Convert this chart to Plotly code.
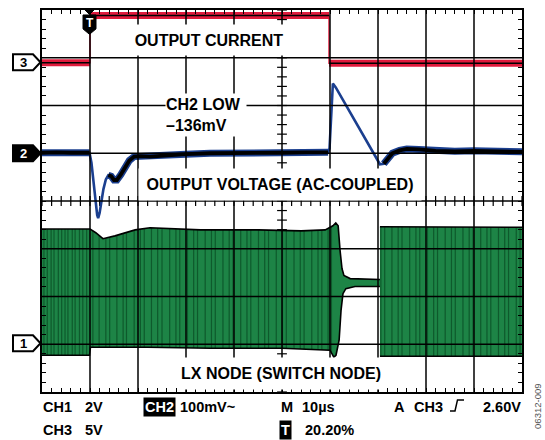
import numpy as np
import plotly.graph_objects as go

# ---------------- data (read from the scope capture) ----------------
# time in microseconds, trigger at 0 (10 us/div)
time_range = [-10, 90]

# CH3: output current (5 V/div probe output, volts)
ch3_t = [-10, 0, 0, 49.8, 49.8, 90]
ch3_v = [-0.05, -0.05, 4.9, 4.9, -0.1, -0.1]

# CH2: output voltage, AC-coupled (mV, 100 mV/div)
ch2_t = [-10, -7, -4, -1, -0.1, 0.3, 0.7, 1.1, 1.5, 1.7, 2.0, 2.4, 2.8, 3.3, 3.8,
         4.4, 5.0, 5.6, 6.4, 7.2, 8.2, 9.2, 10.5, 12.5, 16, 20, 25, 30, 35, 40, 45,
         49.6, 49.9, 50.2, 50.6, 51.2, 55, 60.0, 60.4, 61.2, 62.0, 63.0, 64.5, 66.0,
         68.5, 72, 76, 80, 85, 90]
ch2_mv = [1, 2, 1, 1, 1, -20, -60, -100, -130, -136, -125, -100, -75, -55, -46,
          -48, -56, -56, -45, -30, -15, -7, -6, -7, -4, -2, 0, 0, 1, 1, 2,
          2, 10, 70, 146, 138, 72, -15, -23, -22, -12, 0, 6, 9,
          8, 5, 4, 5, 4, 3]
# time spans where the CH2 trace is slow and shows its noise band
ch2_quiet = [(-10, -0.1), (3.8, 49.6), (61.2, 90)]

# CH1: LX switch node (V, 2 V/div) - upper and lower envelope of the switching
ch1_hi_t = [-10, 0, 1.2, 2.7, 5.2, 9.4, 12.5, 23, 35, 44, 49, 50.6, 51.2, 51.7,
            52.1, 52.5, 52.9, 54.2, 60.4, 60.4, 90]
ch1_hi_v = [4.83, 4.83, 4.67, 4.42, 4.54, 4.79, 4.88, 4.79, 4.79, 4.75, 4.79, 4.96,
            5.08, 4.96, 3.92, 3.17, 2.88, 2.75, 2.71, 4.92, 4.9]
ch1_lo_t = [-10, -0.1, 0.1, 12, 25, 40, 50.0, 50.8, 51.25, 51.9, 52.3, 52.7, 53.3,
            55.2, 60.4, 60.4, 90]
ch1_lo_v = [-0.46, -0.46, -0.125, -0.125, -0.17, -0.17, -0.25, -0.54, -0.46, 0.17,
            1.42, 2.12, 2.33, 2.42, 2.42, -0.5, -0.5]
# switching edges visible as darker stripes
ch1_edges_t = [-9.6, -8.9, -8.1, -7.5, -6.6, -5.9, -5.2, -4.6, -3.7, -3.1, -2.2, -1.5,
               -0.7, 0.6, 1.9, 3.3, 4.1, 5.6, 6.9, 7.6, 9.2, 10.5, 11.3, 12.8, 14.1,
               15.0, 16.6, 17.9, 18.7, 20.3, 21.6, 22.4, 24.0, 25.3, 26.1, 27.7, 29.0,
               29.8, 31.4, 32.7, 33.5, 35.1, 36.4, 37.2, 38.8, 40.1, 40.9, 42.5, 43.8,
               44.6, 46.2, 47.5, 48.3, 49.6, 50.3, 60.6, 61.4, 62.9, 64.2, 65.0, 66.6,
               67.9, 68.7, 70.3, 71.6, 72.4, 74.0, 75.3, 76.1, 77.7, 79.0, 79.8, 81.4,
               82.7, 83.5, 85.1, 86.4, 87.2, 88.8, 89.6]

# channel settings: units per division and ground-marker offset (divisions from centre)
ch1_per_div, ch1_offset = 2.0, -3.0
ch2_per_div, ch2_offset = 100.0, 1.0
ch3_per_div, ch3_offset = 5.0, 2.906

# ---------------- styling ----------------
FONT = "Liberation Sans, Arial, Helvetica, sans-serif"
RED = "#e01a3c"
BLUE = "#1b3f8f"
GREEN = "#1d8446"
GREEN_DARK = "#0e5a2c"

W, H = 545, 440
L, R, T, B = 42, 23, 8, 48
PW, PH = W - L - R, H - T - B


def px(x):
    return (x - L) / PW


def py(y):
    return (H - B - y) / PH


def rng(per_div, off):
    return [(-4 - off) * per_div, (4 - off) * per_div]


def split_edges(t, v):
    xs, ys = [], []
    for i in range(len(t)):
        if i > 0 and t[i] == t[i - 1]:
            xs.append(None)
            ys.append(None)
        xs.append(t[i])
        ys.append(v[i])
    return xs, ys


def mask_quiet(t, v, spans):
    out = []
    for ti, vi in zip(t, v):
        ok = any(a <= ti <= b for a, b in spans)
        out.append(vi if ok else None)
    return out


fig = go.Figure()

# --- CH1 (green switching envelope)
poly_x = ch1_hi_t + ch1_lo_t[::-1]
poly_y = ch1_hi_v + ch1_lo_v[::-1]
fig.add_trace(go.Scatter(x=poly_x, y=poly_y, yaxis="y2", mode="lines", fill="toself",
                         fillcolor=GREEN, line=dict(width=0, color=GREEN),
                         hoverinfo="skip", showlegend=False))
sx, sy = [], []
for te in ch1_edges_t:
    lo = float(np.interp(te, ch1_lo_t, ch1_lo_v))
    hi = float(np.interp(te, ch1_hi_t, ch1_hi_v))
    sx += [te, te, None]
    sy += [lo, hi, None]
fig.add_trace(go.Scatter(x=sx, y=sy, yaxis="y2", mode="lines",
                         line=dict(width=1.2, color=GREEN_DARK),
                         hoverinfo="skip", showlegend=False))
hx, hy = split_edges(ch1_hi_t, ch1_hi_v)
lx, ly = split_edges(ch1_lo_t, ch1_lo_v)
for xx, yy in ((hx, hy), (lx, ly)):
    fig.add_trace(go.Scatter(x=xx, y=yy, yaxis="y2", mode="lines",
                             line=dict(width=1.6, color="black"),
                             hoverinfo="skip", showlegend=False))

# --- CH3 (red output current)
fig.add_trace(go.Scatter(x=ch3_t, y=ch3_v, yaxis="y4", mode="lines",
                         line=dict(width=1.5, color=RED), hoverinfo="skip", showlegend=False))
bx, by = split_edges(ch3_t, ch3_v)
fig.add_trace(go.Scatter(x=bx, y=by, yaxis="y4", mode="lines",
                         line=dict(width=7, color=RED), hoverinfo="skip", showlegend=False))
fig.add_trace(go.Scatter(x=bx, y=by, yaxis="y4", mode="lines",
                         line=dict(width=1.6, color="black"), hoverinfo="skip", showlegend=False))

# --- CH2 (blue output voltage)
fig.add_trace(go.Scatter(x=ch2_t, y=ch2_mv, yaxis="y3", mode="lines",
                         line=dict(width=2.6, color=BLUE), hoverinfo="skip", showlegend=False))
q = mask_quiet(ch2_t, ch2_mv, ch2_quiet)
fig.add_trace(go.Scatter(x=ch2_t, y=q, yaxis="y3", mode="lines",
                         line=dict(width=7, color=BLUE), hoverinfo="skip", showlegend=False))
fig.add_trace(go.Scatter(x=ch2_t, y=q, yaxis="y3", mode="lines",
                         line=dict(width=3.8, color="black"), hoverinfo="skip", showlegend=False))

# --- centre-axis tick marks
cx = np.arange(time_range[0], time_range[1] + 0.01, 2.0)
fig.add_trace(go.Scatter(x=cx, y=np.zeros_like(cx), mode="markers",
                         marker=dict(symbol="line-ns", size=7, color="black",
                                     line=dict(width=1.2, color="black")),
                         hoverinfo="skip", showlegend=False))
cy = np.arange(-4, 4.001, 0.2)
fig.add_trace(go.Scatter(x=np.full_like(cy, 40.0), y=cy, mode="markers",
                         marker=dict(symbol="line-ew", size=7, color="black",
                                     line=dict(width=1.2, color="black")),
                         hoverinfo="skip", showlegend=False))

shapes = []
# graticule drawn over the traces
for k in range(1, 10):
    xv = time_range[0] + 10 * k
    shapes.append(dict(type="line", xref="x", yref="y", x0=xv, x1=xv, y0=-4, y1=4,
                       line=dict(color="black", width=1.5), layer="above"))
for yv in range(-3, 4):
    shapes.append(dict(type="line", xref="x", yref="y", x0=time_range[0], x1=time_range[1],
                       y0=yv, y1=yv, line=dict(color="black", width=1.5), layer="above"))


def path(points, close=True):
    s = "M " + " L ".join(f"{px(a):.5f},{py(b):.5f}" for a, b in points)
    return s + (" Z" if close else "")


def label(text, xc, yc, font, **kw):
    d = dict(x=px(xc), y=py(yc), xref="paper", yref="paper", text=text, showarrow=False,
             xanchor="center", yanchor="middle", font=font)
    d.update(kw)
    return d


# channel ground flags
flags = [("3", 60.5, "white", "black"), ("2", 152, "black", "white"), ("1", 343, "white", "black")]
annotations = []
for lab, yc, fillc, txtc in flags:
    pts = [(13, yc - 8), (33, yc - 8), (40.5, yc), (33, yc + 8), (13, yc + 8)]
    shapes.append(dict(type="path", xref="paper", yref="paper", path=path(pts),
                       fillcolor=fillc, line=dict(color="black", width=2), layer="above"))
    annotations.append(label(lab, 23.5, yc + 0.5,
                             dict(family=FONT, size=13, color=txtc, weight="bold")))
# trigger marker
shapes.append(dict(type="path", xref="paper", yref="paper",
                   path=path([(83, 13), (96, 13), (96, 27), (89.5, 32.5), (83, 27)]),
                   fillcolor="black", line=dict(color="black", width=1), layer="above"))
shapes.append(dict(type="path", xref="paper", yref="paper",
                   path=path([(85, 8), (94, 8), (89.5, 12.5)]),
                   fillcolor="black", line=dict(color="black", width=1), layer="above"))
annotations.append(label("T", 89.5, 21, dict(family=FONT, size=12, color="white",
                                              weight="bold")))
# rising-edge trigger glyph
shapes.append(dict(type="path", xref="paper", yref="paper",
                   path=path([(450, 411), (455, 411), (457.5, 400), (464, 400)], close=False),
                   fillcolor="rgba(0,0,0,0)", line=dict(color="black", width=1.5)))

LBL = dict(family=FONT, size=16, color="black", weight="bold")


def box(text, xc, yc, w, h, align="center"):
    return label(text, xc, yc, LBL, width=w, height=h, bgcolor="white", borderpad=0,
                 align=align)


annotations += [
    box("OUTPUT CURRENT", 209, 38, 158, 30),
    box("CH2 LOW<br>–136mV", 206, 114, 80, 42, align="left"),
    box("OUTPUT VOLTAGE (AC-COUPLED)", 280, 183, 282, 31),
    box("LX NODE (SWITCH NODE)", 281, 373, 206, 31),
]

BF = dict(family=FONT, size=14.5, color="black", weight="bold")
row1, row2 = 407, 430
bottom = [("CH1", 41, row1), ("2V", 83, row1), ("100mV~", 178, row1), ("M", 279, row1),
          ("10µs", 300, row1), ("A", 392, row1), ("CH3", 412, row1), ("2.60V", 481, row1),
          ("CH3", 41, row2), ("5V", 83, row2), ("20.20%", 303, row2)]
for txt, xl, yc in bottom:
    annotations.append(label(txt, xl, yc, BF, xanchor="left"))
for txt, xl, yc in (("CH2", 143, row1), ("T", 279, row2)):
    annotations.append(label(txt, xl, yc,
                             dict(family=FONT, size=14.5, color="white", weight="bold"),
                             xanchor="left", bgcolor="black", borderpad=1))
annotations.append(label("06312-009", 538, 407, dict(family=FONT, size=9.5, color="#555555"),
                         textangle=-90))

axis_common = dict(showgrid=False, zeroline=False, showticklabels=False, ticks="inside",
                   ticklen=4, tickwidth=1, tickcolor="black", showline=True, linewidth=2,
                   linecolor="black", mirror="allticks", layer="above traces",
                   fixedrange=True)

fig.update_layout(
    width=W, height=H, margin=dict(l=L, r=R, t=T, b=B, pad=0),
    paper_bgcolor="white", plot_bgcolor="white", showlegend=False,
    xaxis=dict(range=time_range, tick0=time_range[0], dtick=10,
               minor=dict(tick0=time_range[0], dtick=2, ticks="inside", ticklen=4,
                          tickwidth=1, tickcolor="black", showgrid=False),
               **axis_common),
    yaxis=dict(range=[-4, 4], tick0=-4, dtick=1,
               minor=dict(tick0=-4, dtick=0.2, ticks="inside", ticklen=4,
                          tickwidth=1, tickcolor="black", showgrid=False),
               **axis_common),
    yaxis2=dict(range=rng(ch1_per_div, ch1_offset), overlaying="y", visible=False,
                fixedrange=True),
    yaxis3=dict(range=rng(ch2_per_div, ch2_offset), overlaying="y", visible=False,
                fixedrange=True),
    yaxis4=dict(range=rng(ch3_per_div, ch3_offset), overlaying="y", visible=False,
                fixedrange=True),
    shapes=shapes,
    annotations=annotations,
)

fig.write_html("out.html", config={"displayModeBar": False, "staticPlot": True},
               post_script="document.body.style.margin='0px';document.body.style.padding='0px';")
